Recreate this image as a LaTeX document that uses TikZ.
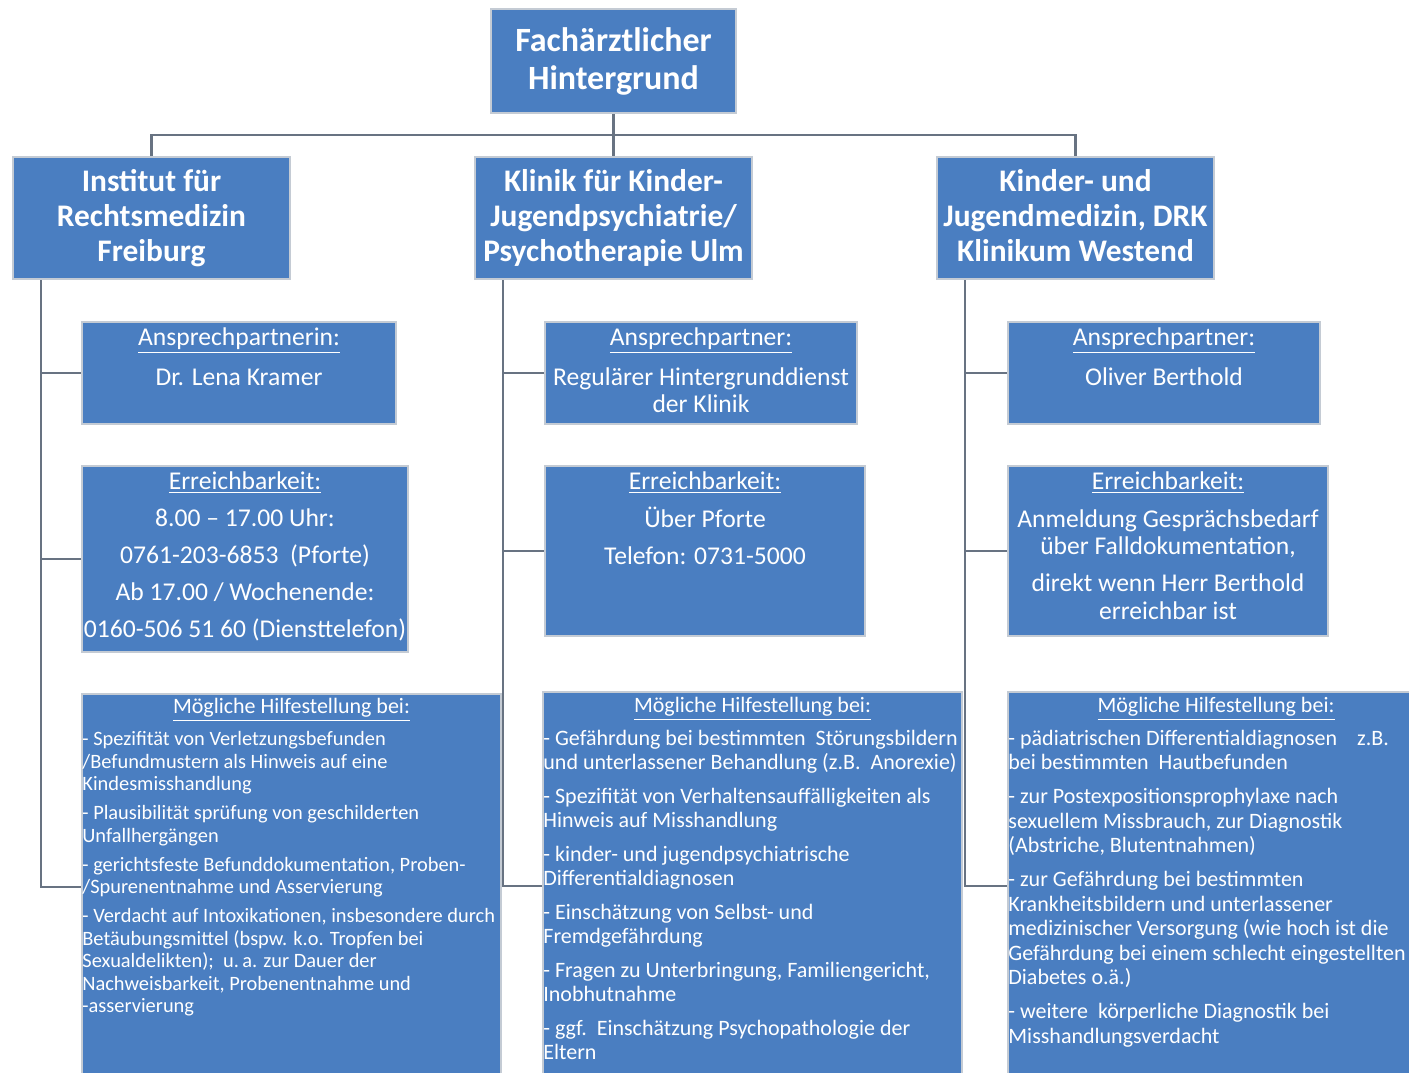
\documentclass[tikz,border=0pt]{standalone}
\usepackage{fontspec}
\setmainfont{Carlito}
\usetikzlibrary{positioning,fit}
\definecolor{boxblue}{RGB}{74,126,193}
\definecolor{boxedge}{RGB}{196,203,212}
\definecolor{linegray}{RGB}{104,115,130}
\tikzset{
  orgbox/.style={draw=boxedge, line width=1pt, fill=boxblue, inner sep=0pt},
  headtext/.style={text=white, align=center, inner sep=0pt, font=\bfseries\fontsize{15.7}{17.5}\selectfont},
  subtext/.style={text=white, align=center, inner sep=0pt, font=\fontsize{12.8}{13.75}\selectfont},
  helptitle/.style={text=white, inner sep=0pt, font=\fontsize{11}{12}\selectfont},
  helptext/.style={text=white, align=left, inner sep=0pt, anchor=north west},
  conn/.style={draw=linegray, line width=1.1pt},
}
\begin{document}
\begin{tikzpicture}[x=0.5pt,y=-0.5pt]
        \useasboundingbox (0,0) rectangle (1409,1072);
        % boxes
        \node[orgbox, fit={(491,9) (736,113)}]     (fh)   {};          %top
        \node[orgbox, fit={(13,157) (290,279)}]    (ifr)  {};          %Freiburg
        \node[orgbox, fit={(475,157) (752,279)}]   (kkj)  {};          %Ulm
        \node[orgbox, fit={(937,157) (1214,279)}]  (kdrk) {};          %Westend
        \node[orgbox, fit={(82,322) (396,424)}]    (ifrA) {};          %
        \node[orgbox, fit={(82,466) (408,652)}]    (ifrE) {};          %
        \node[orgbox, fit={(82,694) (501,1080)}]   (ifrH) {};          %
        \node[orgbox, fit={(545,322) (857,424)}]   (kkjA) {};          %
        \node[orgbox, fit={(545,466) (865,636)}]   (kkjE) {};          %
        \node[orgbox, fit={(543,692) (962,1080)}]  (kkjH) {};          %
        \node[orgbox, fit={(1008,322) (1320,424)}] (kdrkA) {};         %
        \node[orgbox, fit={(1008,466) (1328,636)}] (kdrkE) {};         %
        \node[orgbox, fit={(1008,692) (1415,1080)}] (kdrkH) {};        %
        % connectors
        \coordinate (bus) at (fh.south |- 0,135);
        \draw[conn] (fh.south) -- (kkj.north);                          %
        \draw[conn] (ifr.north) |- (bus) -| (kdrk.north);               %
        \foreach \b in {ifr,kkj,kdrk} {
          \coordinate (\b S) at ([xshift=14.5pt]\b.south west);
          \draw[conn] (\b S) |- (\b H.west);                            %spine
          \draw[conn] (\b S |- \b A.west) -- (\b A.west);               %
          \draw[conn] (\b S |- \b E.west) -- (\b E.west);               %
        }
        % headings
        \node[headtext, font=\bfseries\fontsize{17}{19}\selectfont] (fhT) at (fh.center) {Fachärztlicher\\Hintergrund};
        \node[headtext] (ifrT)  at (ifr.center)  {Institut für\\Rechtsmedizin\\Freiburg};
        \node[headtext] (kkjT)  at (kkj.center)  {Klinik für Kinder-\\Jugendpsychiatrie/\\Psychotherapie Ulm};
        \node[headtext] (kdrkT) at ([yshift=1pt]kdrk.center) {Kinder- und\\Jugendmedizin, DRK\\Klinikum Westend};
        % contact
        \node[subtext, below=3pt of ifrA.north]  (ifrAt)  {\underline{Ansprechpartnerin:}\\[6.25pt]Dr. Lena Kramer};
        \node[subtext, below=3pt of kkjA.north]  (kkjAt)  {\underline{Ansprechpartner:}\\[6.25pt]Regulärer Hintergrunddienst\\der Klinik};
        \node[subtext, below=3pt of kdrkA.north] (kdrkAt) {\underline{Ansprechpartner:}\\[6.25pt]Oliver Berthold};
        % reachability
        \node[subtext, below=3pt of ifrE.north]  (ifrEt)  {\underline{Erreichbarkeit:}\\[4.75pt]8.00 -- 17.00 Uhr:\\[4.75pt]0761-203-6853~~(Pforte)\\[4.75pt]Ab 17.00 / Wochenende:\\[4.75pt]0160-506~51 60 (Diensttelefon)};
        \node[subtext, below=3pt of kkjE.north]  (kkjEt)  {\underline{Erreichbarkeit:}\\[5.25pt]Über Pforte\\[4.75pt]Telefon: 0731-5000};
        \node[subtext, below=3pt of kdrkE.north] (kdrkEt) {\underline{Erreichbarkeit:}\\[5.25pt]Anmeldung Gesprächsbedarf\\über Falldokumentation,\\[4.75pt]direkt wenn Herr Berthold\\erreichbar ist};
        % help
        \node[helptitle, below=2.5pt of ifrH.north]  (ifrHh)  {\underline{Mögliche Hilfestellung bei:}};
        \node[helptitle, below=3pt of kkjH.north]    (kkjHh)  {\underline{Mögliche Hilfestellung bei:}};
        \node[helptitle] (kdrkHh) at ([yshift=-3pt]kdrkH.north west -| 1216,0) [anchor=north] {\underline{Mögliche Hilfestellung bei:}};
        \node[helptext, font=\fontsize{10.2}{11.25}\selectfont] (ifrHt) at ([xshift=0.5pt,yshift=-19pt]ifrH.north west)
          {- Spezifität von Verletzungsbefunden\\/Befundmustern als Hinweis auf eine\\Kindesmisshandlung\\[3.25pt]
           - Plausibilität sprüfung von geschilderten\\Unfallhergängen\\[3.25pt]
           - gerichtsfeste Befunddokumentation, Proben-\\/Spurenentnahme und Asservierung\\[3.25pt]
           - Verdacht auf Intoxikationen, insbesondere durch\\Betäubungsmittel (bspw. k.o. Tropfen bei\\Sexualdelikten);~~u.\,a. zur Dauer der\\Nachweisbarkeit, Probenentnahme und\\-asservierung};
        \node[helptext, font=\fontsize{11}{12}\selectfont] (kkjHt) at ([xshift=0.5pt,yshift=-19.2pt]kkjH.north west)
          {- Gefährdung bei bestimmten~~Störungsbildern\\und unterlassener Behandlung (z.B.~~Anorexie)\\[5pt]
           - Spezifität von Verhaltensauffälligkeiten als\\Hinweis auf Misshandlung\\[5pt]
           - kinder- und jugendpsychiatrische\\Differentialdiagnosen\\[5pt]
           - Einschätzung von Selbst- und\\Fremdgefährdung\\[5pt]
           - Fragen zu Unterbringung, Familiengericht,\\Inobhutnahme\\[5pt]
           - ggf.~~Einschätzung Psychopathologie der\\Eltern};
        \node[helptext, font=\fontsize{11}{12.25}\selectfont] (kdrkHt) at ([xshift=0.5pt,yshift=-19.2pt]kdrkH.north west)
          {- pädiatrischen Differentialdiagnosen\hspace{10pt}z.B.\\bei bestimmten~~Hautbefunden\\[4.75pt]
           - zur Postexpositionsprophylaxe nach\\sexuellem Missbrauch, zur Diagnostik\\(Abstriche, Blutentnahmen)\\[4.75pt]
           - zur Gefährdung bei bestimmten\\Krankheitsbildern und unterlassener\\medizinischer Versorgung (wie hoch ist die\\Gefährdung bei einem schlecht eingestellten\\Diabetes o.ä.)\\[4.75pt]
           - weitere~~körperliche Diagnostik bei\\Misshandlungsverdacht};
\end{tikzpicture}
\end{document}
